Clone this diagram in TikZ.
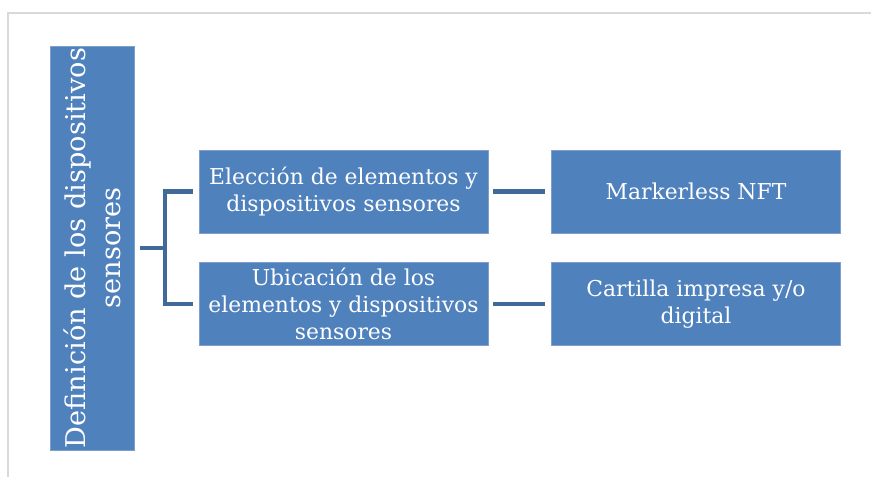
\documentclass[tikz,border=0pt]{standalone}
\usepackage{fontspec}
\setmainfont{DejaVu Serif}
\usepackage{xcolor}
\usetikzlibrary{positioning}
\definecolor{boxblue}{HTML}{4F81BD}
\definecolor{boxedge}{HTML}{7F9FCB}
\definecolor{linkblue}{HTML}{41699A}
\definecolor{framegray}{HTML}{D9D9D9}

\begin{document}
\begin{tikzpicture}[
    x=0.75pt, y=-0.75pt,
    item/.style={draw=boxedge, line width=0.6pt, fill=boxblue, text=white, minimum width=289*0.75pt, minimum height=83*0.75pt, inner sep=0pt, font=\fontsize{16.4}{20.3}\selectfont, align=center},
    mainbox/.style={draw=boxedge, line width=0.6pt, fill=boxblue, text=white, minimum width=404*0.75pt, minimum height=84*0.75pt, inner sep=0pt, font=\fontsize{20.4}{26}\selectfont, align=center, rotate=90},
    link/.style={draw=linkblue, line width=3.4pt}
]
    \useasboundingbox (0,0) rectangle (871,477);

    % page frame
    \draw[framegray, line width=1.1pt] (8,477) -- (8,13) -- (871,13);

    % main box
    \node[mainbox] (main) at (92,248) {Definición de los dispositivos\\sensores};

    % second level
    \node[item] (elec) at (343.5,191.5) {Elección de elementos y\\dispositivos sensores};
    \node[item] (ubic) at (343.5,304) {Ubicación de los\\elementos y dispositivos\\sensores};

    % third level
    \node[item] (nft) at (696,191.5) {Markerless NFT};
    \node[item] (cart) at (696,304) {Cartilla impresa y/o\\digital};

    % connectors
    \coordinate (fork) at (165,248);
    \draw[link, shorten <=6pt*0.75] (main.south) -- (fork);
    \draw[link, shorten <=6pt*0.75, shorten >=6pt*0.75] (elec.west) -| (fork) |- (ubic.west);
    \draw[link, shorten <=5pt*0.75, shorten >=6pt*0.75] (elec.east) -- (nft.west);
    \draw[link, shorten <=5pt*0.75, shorten >=6pt*0.75] (ubic.east) -- (cart.west);
\end{tikzpicture}
\end{document}
